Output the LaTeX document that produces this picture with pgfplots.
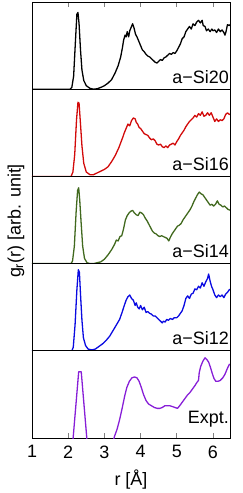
\documentclass[border=0pt]{standalone}
\usepackage{pgfplots}
\pgfplotsset{compat=1.18}
\usepgfplotslibrary{groupplots}
\usepackage{fontspec}
\setmainfont{Liberation Sans}
\definecolor{cred}{RGB}{210,10,10}
\definecolor{cgreen}{RGB}{65,105,30}
\definecolor{cblue}{RGB}{10,10,225}
\definecolor{cpurple}{RGB}{135,30,215}
\newcommand{\lf}{\fontsize{18}{21}\selectfont}
\begin{document}
\begin{tikzpicture}
\begin{groupplot}[
  group style={group size=1 by 5, vertical sep=0pt},
  width=198bp, height=87.2bp, scale only axis,
  xmin=1, xmax=6.47, ymin=0, ymax=1,
  ytick=\empty, xtick=\empty,
  axis line style={line width=0.8pt},
  every axis plot/.append style={line width=1.3pt, line join=round},
  tick style={gray, line width=0.8pt}, major tick length=5bp,
  tick label style={font=\lf},
  label style={font=\lf},
  /pgf/number format/assume math mode=true,
]
\nextgroupplot[xtick={1,2,3,4,5,6}, xtick pos=right, xticklabels={}]
\coordinate (TR) at (rel axis cs:1,1);
\addplot[black] coordinates {(1,0) (2.05,0) (2.1,0.02) (2.15,0.15) (2.2,0.55) (2.24,0.86) (2.27,0.88) (2.3,0.75) (2.34,0.45) (2.38,0.22) (2.43,0.1) (2.5,0.04) (2.6,0.01) (2.7,0.0) (2.8,0.005) (2.9,0.02) (3.0,0.04) (3.1,0.07) (3.2,0.11) (3.3,0.19) (3.38,0.27) (3.45,0.37) (3.5,0.48) (3.53,0.56) (3.57,0.62) (3.6,0.6) (3.63,0.66) (3.67,0.6) (3.7,0.67) (3.75,0.72) (3.78,0.75) (3.82,0.7) (3.86,0.63) (3.9,0.6) (3.95,0.55) (4.0,0.5) (4.05,0.45) (4.1,0.43) (4.15,0.4) (4.2,0.38) (4.25,0.37) (4.3,0.35) (4.35,0.33) (4.4,0.31) (4.45,0.3) (4.5,0.32) (4.55,0.34) (4.6,0.33) (4.65,0.36) (4.7,0.37) (4.75,0.39) (4.8,0.41) (4.85,0.4) (4.9,0.42) (4.95,0.41) (5.0,0.44) (5.05,0.48) (5.1,0.52) (5.15,0.58) (5.2,0.6) (5.25,0.66) (5.3,0.69) (5.35,0.72) (5.4,0.69) (5.45,0.75) (5.5,0.73) (5.55,0.77) (5.6,0.79) (5.65,0.76) (5.7,0.79) (5.73,0.73) (5.78,0.72) (5.82,0.67) (5.87,0.69) (5.92,0.66) (5.97,0.69) (6.0,0.67) (6.05,0.68) (6.1,0.65) (6.15,0.69) (6.2,0.66) (6.25,0.68) (6.3,0.65) (6.33,0.62) (6.36,0.66) (6.4,0.74) (6.45,0.73) (6.5,0.75)};
\node[anchor=base east, font=\lf, inner sep=0pt] at (rel axis cs:1,0) [xshift=-1bp, yshift=6bp] {a−Si20};
\nextgroupplot
\addplot[cred] coordinates {(1,0) (2.08,0) (2.13,0.05) (2.18,0.25) (2.23,0.65) (2.27,0.85) (2.3,0.84) (2.34,0.6) (2.38,0.35) (2.43,0.15) (2.5,0.05) (2.6,0.02) (2.7,0.02) (2.8,0.04) (2.9,0.06) (3.0,0.08) (3.1,0.11) (3.2,0.17) (3.3,0.24) (3.4,0.33) (3.5,0.44) (3.55,0.5) (3.6,0.55) (3.65,0.6) (3.7,0.58) (3.75,0.64) (3.8,0.67) (3.85,0.66) (3.88,0.62) (3.92,0.6) (3.96,0.56) (4.0,0.55) (4.05,0.52) (4.1,0.49) (4.15,0.48) (4.2,0.47) (4.25,0.44) (4.3,0.42) (4.35,0.43) (4.4,0.41) (4.45,0.37) (4.5,0.36) (4.55,0.37) (4.6,0.34) (4.65,0.33) (4.7,0.35) (4.75,0.33) (4.8,0.36) (4.85,0.37) (4.9,0.38) (4.95,0.36) (5.0,0.4) (5.05,0.43) (5.1,0.47) (5.15,0.5) (5.2,0.53) (5.25,0.57) (5.3,0.6) (5.35,0.63) (5.4,0.65) (5.45,0.67) (5.5,0.7) (5.55,0.68) (5.6,0.72) (5.65,0.7) (5.7,0.74) (5.75,0.69) (5.8,0.7) (5.85,0.73) (5.9,0.7) (5.95,0.73) (6.0,0.68) (6.05,0.63) (6.1,0.66) (6.15,0.63) (6.2,0.65) (6.25,0.64) (6.3,0.66) (6.35,0.71) (6.4,0.73) (6.45,0.71) (6.5,0.72)};
\node[anchor=base east, font=\lf, inner sep=0pt] at (rel axis cs:1,0) [xshift=-1bp, yshift=6bp] {a−Si16};
\nextgroupplot
\coordinate (ML) at (rel axis cs:0,0.5);
\addplot[cgreen] coordinates {(1,0) (2.08,0) (2.12,0.03) (2.17,0.2) (2.22,0.6) (2.26,0.84) (2.29,0.87) (2.32,0.72) (2.36,0.45) (2.4,0.2) (2.45,0.06) (2.52,0.01) (2.6,0.0) (2.7,0.0) (2.8,0.01) (2.9,0.02) (3.0,0.05) (3.1,0.1) (3.2,0.16) (3.28,0.22) (3.33,0.27) (3.38,0.26) (3.43,0.31) (3.48,0.32) (3.53,0.4) (3.58,0.5) (3.63,0.55) (3.68,0.58) (3.73,0.6) (3.78,0.61) (3.83,0.58) (3.88,0.56) (3.93,0.55) (3.98,0.59) (4.03,0.58) (4.08,0.56) (4.13,0.52) (4.18,0.49) (4.23,0.45) (4.28,0.41) (4.33,0.37) (4.38,0.35) (4.43,0.34) (4.48,0.32) (4.53,0.31) (4.58,0.32) (4.63,0.31) (4.68,0.3) (4.73,0.29) (4.78,0.26) (4.82,0.3) (4.87,0.34) (4.92,0.37) (4.97,0.4) (5.02,0.43) (5.07,0.44) (5.12,0.46) (5.17,0.5) (5.22,0.53) (5.27,0.56) (5.32,0.59) (5.37,0.62) (5.42,0.66) (5.47,0.71) (5.52,0.75) (5.57,0.79) (5.62,0.82) (5.67,0.8) (5.72,0.79) (5.77,0.76) (5.82,0.73) (5.87,0.7) (5.92,0.67) (5.97,0.68) (6.02,0.66) (6.07,0.68) (6.12,0.72) (6.17,0.68) (6.22,0.67) (6.27,0.65) (6.32,0.66) (6.37,0.64) (6.42,0.62) (6.5,0.61)};
\node[anchor=base east, font=\lf, inner sep=0pt] at (rel axis cs:1,0) [xshift=-1bp, yshift=6bp] {a−Si14};
\nextgroupplot
\addplot[cblue] coordinates {(1,0) (2.1,0) (2.14,0.04) (2.19,0.3) (2.24,0.7) (2.28,0.93) (2.31,0.9) (2.34,0.65) (2.38,0.35) (2.42,0.15) (2.48,0.06) (2.55,0.02) (2.65,0.01) (2.75,0.02) (2.85,0.05) (2.95,0.08) (3.05,0.12) (3.15,0.17) (3.25,0.24) (3.35,0.31) (3.42,0.36) (3.48,0.43) (3.55,0.52) (3.6,0.58) (3.65,0.62) (3.7,0.64) (3.75,0.6) (3.8,0.58) (3.85,0.52) (3.88,0.55) (3.92,0.5) (3.96,0.48) (4.0,0.52) (4.05,0.47) (4.1,0.5) (4.15,0.44) (4.2,0.45) (4.25,0.43) (4.3,0.42) (4.35,0.4) (4.4,0.4) (4.45,0.38) (4.5,0.36) (4.55,0.34) (4.6,0.32) (4.63,0.34) (4.68,0.33) (4.72,0.36) (4.77,0.35) (4.82,0.37) (4.88,0.36) (4.93,0.38) (5.0,0.38) (5.05,0.4) (5.1,0.43) (5.15,0.46) (5.2,0.52) (5.25,0.6) (5.3,0.63) (5.35,0.6) (5.4,0.65) (5.45,0.66) (5.5,0.71) (5.55,0.7) (5.6,0.74) (5.65,0.72) (5.7,0.78) (5.75,0.74) (5.8,0.79) (5.85,0.83) (5.88,0.88) (5.92,0.8) (5.96,0.74) (6.0,0.7) (6.05,0.64) (6.1,0.61) (6.15,0.64) (6.2,0.62) (6.25,0.64) (6.3,0.61) (6.35,0.65) (6.4,0.67) (6.45,0.7) (6.5,0.71)};
\node[anchor=base east, font=\lf, inner sep=0pt] at (rel axis cs:1,0) [xshift=-1bp, yshift=6bp] {a−Si12};
\nextgroupplot[xtick={1,2,3,4,5,6}, xtick pos=left, xticklabel style={yshift=-4bp}, xlabel={r [Å]}, xlabel style={at={(axis description cs:0.5,0)}, anchor=base, yshift=-47bp}]
\coordinate (BL) at (rel axis cs:0,0);
\addplot[cpurple] coordinates {(2.12,-0.08) (2.29,0.76) (2.36,0.76) (2.53,-0.08)};
\addplot[cpurple] coordinates {(3.2,-0.1) (3.28,0.02) (3.35,0.1) (3.42,0.21) (3.49,0.34) (3.56,0.48) (3.62,0.58) (3.69,0.65) (3.76,0.69) (3.83,0.7) (3.9,0.69) (3.96,0.65) (4.02,0.58) (4.08,0.5) (4.15,0.43) (4.22,0.39) (4.3,0.37) (4.38,0.35) (4.46,0.34) (4.53,0.34) (4.6,0.35) (4.67,0.37) (4.74,0.37) (4.81,0.37) (4.88,0.36) (4.95,0.35) (5.02,0.34) (5.08,0.37) (5.15,0.41) (5.22,0.45) (5.29,0.49) (5.36,0.52) (5.43,0.56) (5.5,0.6) (5.56,0.64) (5.6,0.66) (5.62,0.75) (5.66,0.82) (5.72,0.88) (5.78,0.92) (5.83,0.9) (5.88,0.87) (5.93,0.81) (5.98,0.74) (6.03,0.68) (6.08,0.65) (6.14,0.65) (6.2,0.66) (6.27,0.69) (6.33,0.73) (6.4,0.8) (6.46,0.85)};
\node[anchor=base east, font=\lf, inner sep=0pt] at (rel axis cs:1,0) [xshift=-1bp, yshift=15bp] {Expt.};
\end{groupplot}
\node[rotate=90, font=\lf, anchor=center] at ([xshift=-16bp, yshift=-1bp]ML) {g\textsubscript{r}(r) [arb. unit]};
\pgfresetboundingbox
\path ([xshift=-32bp, yshift=-55bp]BL) rectangle ([xshift=13bp, yshift=2bp]TR);
\end{tikzpicture}
\end{document}
